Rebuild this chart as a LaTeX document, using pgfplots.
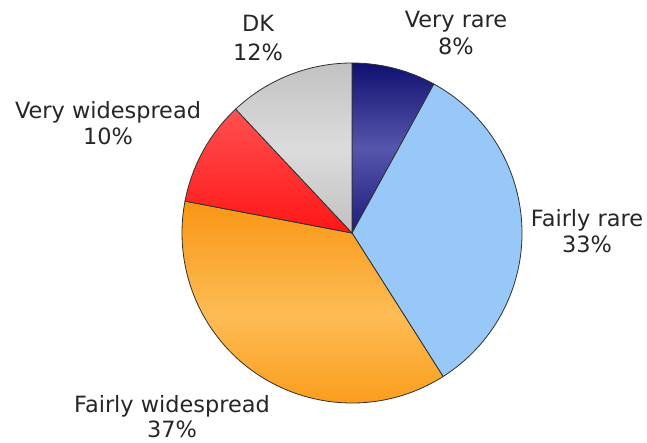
\documentclass[border=0pt]{standalone}
\usepackage{fontspec}
\setmainfont{DejaVu Sans}
\usepackage{pgfplots}
\usepackage{pgfplotstable}
\pgfplotsset{compat=1.18}

\pgfplotstableread[col sep=comma]{
label,value
Very rare,8
Fairly rare,33
Fairly widespread,37
Very widespread,10
DK,12
}\piedata

% cumulative angles, clockwise from the top
\def\angA{90}
\pgfplotstablegetelem{0}{value}\of\piedata \pgfmathsetmacro\angB{\angA-3.6*\pgfplotsretval}
\pgfplotstablegetelem{1}{value}\of\piedata \pgfmathsetmacro\angC{\angB-3.6*\pgfplotsretval}
\pgfplotstablegetelem{2}{value}\of\piedata \pgfmathsetmacro\angD{\angC-3.6*\pgfplotsretval}
\pgfplotstablegetelem{3}{value}\of\piedata \pgfmathsetmacro\angE{\angD-3.6*\pgfplotsretval}
\pgfplotstablegetelem{4}{value}\of\piedata \pgfmathsetmacro\angF{\angE-3.6*\pgfplotsretval}

\definecolor{txt}{HTML}{262626}
\definecolor{edge}{HTML}{303030}

\begin{document}
\begin{tikzpicture}
\begin{axis}[
name=ax,
scale only axis,
width=647bp, height=443bp,
xmin=0, xmax=647, ymin=0, ymax=443,
hide axis, clip=false,
]
\def\R{170bp}
\tikzset{slice/.style={draw=edge, line width=0.8bp}}
% Very rare
\path[slice, top color={rgb,255:red,16;green,16;blue,112}, bottom color={rgb,255:red,28;green,28;blue,124}, middle color={rgb,255:red,86;green,86;blue,172}]
  (axis cs:352,210) -- ++(\angA:\R) arc[start angle=\angA, end angle=\angB, radius=\R] -- cycle;
% Fairly rare
\path[slice, fill={rgb,255:red,152;green,200;blue,248}]
  (axis cs:352,210) -- ++(\angB:\R) arc[start angle=\angB, end angle=\angC, radius=\R] -- cycle;
% Fairly widespread
\path[slice, top color={rgb,255:red,248;green,150;blue,20}, bottom color={rgb,255:red,250;green,150;blue,16}, middle color={rgb,255:red,253;green,188;blue,84}]
  (axis cs:352,210) -- ++(\angC:\R) arc[start angle=\angC, end angle=\angD, radius=\R] -- cycle;
% Very widespread
\path[slice, top color={rgb,255:red,255;green,80;blue,80}, bottom color={rgb,255:red,255;green,22;blue,22}]
  (axis cs:352,210) -- ++(\angD:\R) arc[start angle=\angD, end angle=\angE, radius=\R] -- cycle;
% DK
\path[slice, top color={rgb,255:red,194;green,194;blue,194}, bottom color={rgb,255:red,192;green,192;blue,192}, middle color={rgb,255:red,220;green,220;blue,220}]
  (axis cs:352,210) -- ++(\angE:\R) arc[start angle=\angE, end angle=\angF, radius=\R] -- cycle;

\tikzset{lab/.style={anchor=base, inner sep=0pt, text=txt, font=\fontsize{22.5}{27}\selectfont}}
\node[lab] at (axis cs:456,415) {Very rare};
\node[lab] at (axis cs:456,388) {8\%};
\node[lab] at (axis cs:587,216) {Fairly rare};
\node[lab] at (axis cs:587,190) {33\%};
\node[lab] at (axis cs:172,30) {Fairly widespread};
\node[lab] at (axis cs:172,5) {37\%};
\node[lab] at (axis cs:108,324) {Very widespread};
\node[lab] at (axis cs:108,298) {10\%};
\node[lab] at (axis cs:258,411) {DK};
\node[lab] at (axis cs:258,382) {12\%};
\end{axis}
\pgfresetboundingbox
\path (ax.south west) rectangle (ax.north east);
\end{tikzpicture}
\end{document}
